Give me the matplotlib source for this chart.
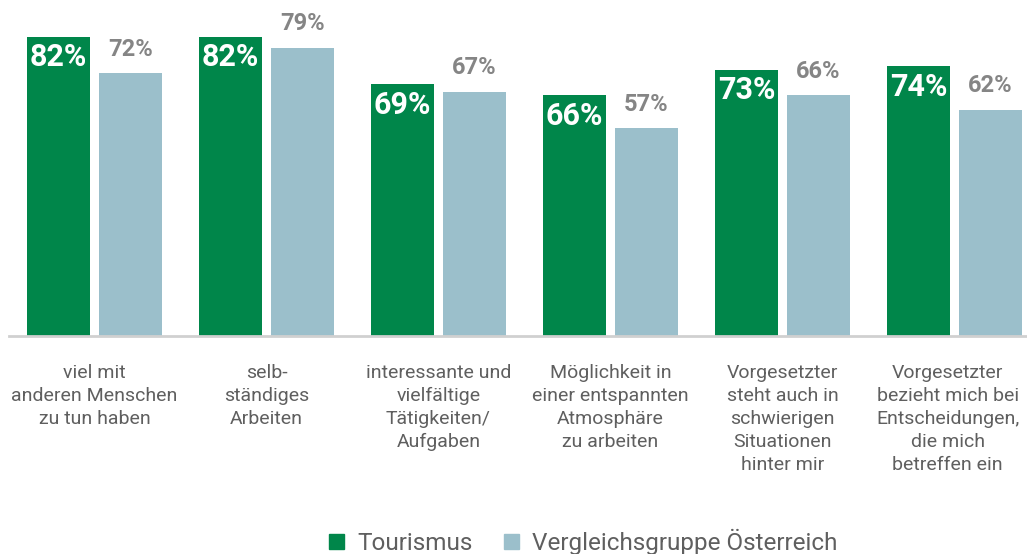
import matplotlib.pyplot as plt
from matplotlib.patches import Patch

# data
categories = [
    "viel mit\nanderen Menschen\nzu tun haben",
    "selb-\nständiges\nArbeiten",
    "interessante und\nvielfältige\nTätigkeiten/\nAufgaben",
    "Möglichkeit in\neiner entspannten\nAtmosphäre\nzu arbeiten",
    "Vorgesetzter\nsteht auch in\nschwierigen\nSituationen\nhinter mir",
    "Vorgesetzter\nbezieht mich bei\nEntscheidungen,\ndie mich\nbetreffen ein",
]
tourismus = [82, 82, 69, 66, 73, 74]
vergleich = [72, 79, 67, 57, 66, 62]
series_names = ["Tourismus", "Vergleichsgruppe Österreich"]

GREEN = "#00864A"
BLUE = "#9BBFCB"
LABEL_GRAY = "#858585"
TEXT_GRAY = "#5f5f5f"

plt.rcParams['font.family'] = ['Roboto', 'DejaVu Sans']

fig = plt.figure(figsize=(10.27, 5.54), dpi=100)
ax = fig.add_axes([0, 218 / 554, 1, 336 / 554])

width = 0.366
offset = 0.209
x = list(range(len(categories)))

ax.bar([i - offset for i in x], tourismus, width, color=GREEN)
ax.bar([i + offset for i in x], vergleich, width, color=BLUE)

for i in x:
    ax.text(i - offset, tourismus[i] - 5.6, f"{tourismus[i]}%", ha='center',
            va='center', color='white', fontsize=22, fontweight='bold')
    ax.text(i + offset, vergleich[i] + 6.6, f"{vergleich[i]}%", ha='center',
            va='center', color=LABEL_GRAY, fontsize=17, fontweight='bold')
    # last label sits a little left of its group so it stays inside the figure
    lx = i - 0.04 if i == len(categories) - 1 else i
    ax.text(lx, -7.6, categories[i], ha='center', va='top', color=TEXT_GRAY,
            fontsize=14, linespacing=1.36)

ax.set_xlim(-94.5 / 172, (1027 - 94.5) / 172)
ax.set_ylim(0, 336 / 3.646)
ax.axhline(0, xmin=9 / 1027, xmax=1, color="#d0d0d0", lw=2, clip_on=False)
ax.axis('off')

handles = [Patch(color=GREEN), Patch(color=BLUE)]
fig.legend(handles, series_names, loc='center', bbox_to_anchor=(0.568, 1 - 542 / 554),
           ncol=2, frameon=False, fontsize=17.5, handlelength=0.6, handleheight=0.6,
           handletextpad=0.55, columnspacing=1.3, labelcolor=TEXT_GRAY)

fig.savefig("out.png", dpi=100)
